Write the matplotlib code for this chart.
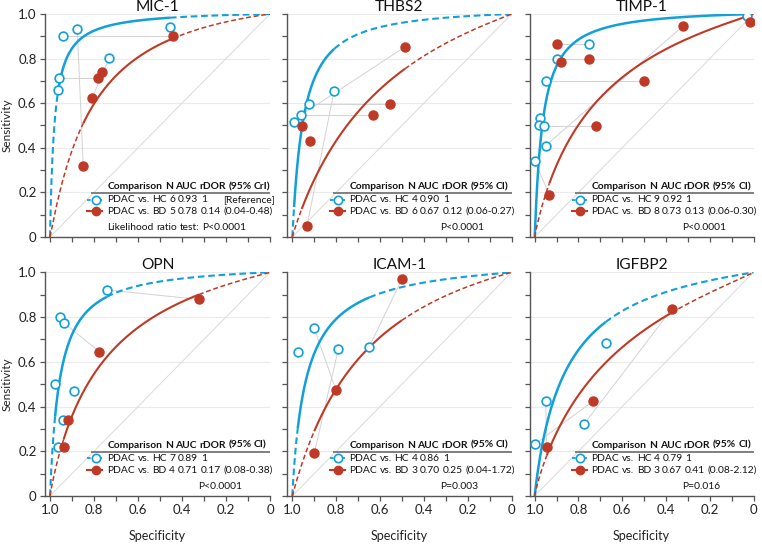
import numpy as np
import matplotlib
matplotlib.use("Agg")
import matplotlib.pyplot as plt
from matplotlib.ticker import MultipleLocator

plt.rcParams['font.family'] = ['Lato', 'DejaVu Sans']

LEG_FAMILY = ['Lato', 'DejaVu Sans']
FS_LEG = 7.4

BLUE = '#12A0DA'
RED = '#BE3A26'
GREY = '#D2D2D2'

titles = ["MIC-1", "THBS2", "TIMP-1", "OPN", "ICAM-1", "IGFBP2"]

# ---- study points (specificity, sensitivity) ----
mic1_hc_spec = [0.942, 0.876, 0.455, 0.730, 0.959, 0.965]
mic1_hc_sens = [0.901, 0.931, 0.940, 0.803, 0.711, 0.659]
mic1_bd_spec = [0.442, 0.764, 0.783, 0.808, 0.849]
mic1_bd_sens = [0.901, 0.738, 0.711, 0.625, 0.318]
mic1_pairs = [(0, 0), (1, 4), (3, 3), (4, 2)]

thbs2_hc_spec = [0.809, 0.922, 0.960, 0.992]
thbs2_hc_sens = [0.656, 0.595, 0.547, 0.516]
thbs2_bd_spec = [0.486, 0.555, 0.634, 0.957, 0.919, 0.933]
thbs2_bd_sens = [0.853, 0.595, 0.547, 0.498, 0.432, 0.051]
thbs2_pairs = [(1, 1), (2, 2), (2, 0), (0, 5)]

timp1_hc_spec = [0.030, 0.750, 0.899, 0.950, 0.976, 0.980, 0.959, 0.950, 1.000]
timp1_hc_sens = [0.991, 0.867, 0.800, 0.700, 0.532, 0.504, 0.499, 0.410, 0.342]
timp1_bd_spec = [0.016, 0.322, 0.899, 0.881, 0.750, 0.499, 0.720, 0.933]
timp1_bd_sens = [0.966, 0.946, 0.867, 0.786, 0.800, 0.700, 0.499, 0.188]
timp1_pairs = [(0, 0), (1, 2), (2, 4), (3, 5), (6, 6), (7, 1), (8, 7)]

opn_hc_spec = [0.742, 0.955, 0.938, 0.977, 0.891, 0.942, 0.965]
opn_hc_sens = [0.921, 0.802, 0.775, 0.501, 0.471, 0.340, 0.220]
opn_bd_spec = [0.323, 0.776, 0.920, 0.938]
opn_bd_sens = [0.879, 0.645, 0.340, 0.220]
opn_pairs = [(0, 0), (2, 1), (5, 2), (6, 3)]

icam1_hc_spec = [0.975, 0.900, 0.790, 0.649]
icam1_hc_sens = [0.645, 0.750, 0.657, 0.667]
icam1_bd_spec = [0.501, 0.801, 0.900]
icam1_bd_sens = [0.969, 0.474, 0.191]
icam1_pairs = [(3, 0), (1, 1), (2, 2)]

igfbp2_hc_spec = [0.676, 0.950, 0.773, 1.000]
igfbp2_hc_sens = [0.685, 0.425, 0.323, 0.231]
igfbp2_bd_spec = [0.374, 0.732, 0.945]
igfbp2_bd_sens = [0.835, 0.425, 0.220]
igfbp2_pairs = [(1, 2), (3, 1), (2, 0)]

# ---- SROC curves: logit(sens) = a + b * logit(1 - spec) ----
hc_curve_a = [3.90, 3.20, 3.50, 3.15, 2.65, 1.95]
hc_curve_b = [1.00, 1.05, 1.05, 1.00, 0.95, 0.95]
bd_curve_a = [1.85, 1.07, 1.30, 1.50, 1.30, 1.05]
bd_curve_b = [1.05, 0.97, 0.93, 0.95, 1.00, 0.90]

# ---- legend table ----
hc_n = ["6", "4", "9", "7", "4", "4"]
bd_n = ["5", "6", "8", "4", "3", "3"]
hc_auc = ["0.93", "0.90", "0.92", "0.89", "0.86", "0.79"]
bd_auc = ["0.78", "0.67", "0.73", "0.71", "0.70", "0.67"]
bd_rdor = ["0.14 (0.04-0.48)", "0.12 (0.06-0.27)", "0.13 (0.06-0.30)",
           "0.17 (0.08-0.38)", "0.25 (0.04-1.72)", "0.41 (0.08-2.12)"]
ci_word = ["CrI", "CI", "CI", "CI", "CI", "CI"]
p_text = ["Likelihood ratio test: P<0.0001", "P<0.0001", "P<0.0001",
          "P<0.0001", "P=0.003", "P=0.016"]

panels = [
    (mic1_hc_spec, mic1_hc_sens, mic1_bd_spec, mic1_bd_sens, mic1_pairs),
    (thbs2_hc_spec, thbs2_hc_sens, thbs2_bd_spec, thbs2_bd_sens, thbs2_pairs),
    (timp1_hc_spec, timp1_hc_sens, timp1_bd_spec, timp1_bd_sens, timp1_pairs),
    (opn_hc_spec, opn_hc_sens, opn_bd_spec, opn_bd_sens, opn_pairs),
    (icam1_hc_spec, icam1_hc_sens, icam1_bd_spec, icam1_bd_sens, icam1_pairs),
    (igfbp2_hc_spec, igfbp2_hc_sens, igfbp2_bd_spec, igfbp2_bd_sens, igfbp2_pairs),
]

W, H = 762, 544
DPI = 100
fig = plt.figure(figsize=(W / DPI, H / DPI), dpi=DPI)
renderer = fig.canvas.get_renderer()

col_x1 = [50.0, 292.3, 534.7]     # pixel of spec=1
col_span = [220.0, 219.4, 218.8]  # pixels per unit
row_y0 = [237.0, 496.0]           # pixel of sens=0
row_span = [223.0, 223.7]
XL = 1.023


def sroc(a, b, fpr):
    lg = a + b * np.log(fpr / (1 - fpr))
    return 1 / (1 + np.exp(-lg))


def draw_curve(ax, a, b, specs, color, lw_solid, lw_dash):
    lo_f = 1 - max(specs)
    hi_f = 1 - min(specs)
    eps = 1e-5
    f_lo = np.linspace(eps, max(lo_f, eps), 200)
    f_mid = np.linspace(max(lo_f, eps), min(hi_f, 1 - eps), 400)
    f_hi = np.linspace(min(hi_f, 1 - eps), 1 - eps, 200)
    if lo_f > 0.002:
        xs = np.concatenate([[1.0], 1 - f_lo])
        ys = np.concatenate([[0.0], sroc(a, b, f_lo)])
        ax.plot(xs, ys, color=color, lw=lw_dash, ls=(0, (3.2, 1.8)), zorder=3)
    else:
        f_mid = np.concatenate([[eps], f_mid])
    xs = 1 - f_mid
    ys = sroc(a, b, f_mid)
    if lo_f <= 0.002:
        xs = np.concatenate([[1.0], xs])
        ys = np.concatenate([[0.0], ys])
    ax.plot(xs, ys, color=color, lw=lw_solid, solid_capstyle='butt', zorder=3)
    if hi_f < 0.998:
        xs = np.concatenate([1 - f_hi, [0.0]])
        ys = np.concatenate([sroc(a, b, f_hi), [1.0]])
        ax.plot(xs, ys, color=color, lw=lw_dash, ls=(0, (3.2, 1.8)), zorder=3)


def words(ax, x, y, s, bold=False):
    """Draw a line of text word by word; returns offsets (points) of each word."""
    kw = dict(fontsize=FS_LEG, va='center', ha='left', zorder=6,
              color='#111111', family=LEG_FAMILY, annotation_clip=False,
              fontweight='bold' if bold else 'normal',
              xycoords='data', textcoords='offset points')
    probe = ax.annotate("n n", (x, y), xytext=(0, 0), **kw)
    w2 = probe.get_window_extent(renderer).width
    probe.set_text("nn")
    w1 = probe.get_window_extent(renderer).width
    probe.remove()
    space = (w2 - w1) * 72.0 / DPI
    off = 0.0
    offs = []
    for wd in s.split(' '):
        t = ax.annotate(wd, (x, y), xytext=(off, 0), **kw)
        offs.append(off)
        off += t.get_window_extent(renderer).width * 72.0 / DPI + space
    return offs


for i, (hs, hy, bs, by, pairs) in enumerate(panels):
    r, c = divmod(i, 3)
    left = col_x1[c] - (XL - 1) * col_span[c]
    width = XL * col_span[c]
    bottom = H - row_y0[r]
    ax = fig.add_axes([left / W, bottom / H, width / W, row_span[r] / H])
    ax.patch.set_visible(False)
    ax.set_xlim(XL, 0)
    ax.set_ylim(0, 1)
    for s in ['top', 'right']:
        ax.spines[s].set_visible(False)
    for s in ['left', 'bottom']:
        ax.spines[s].set_color('#555555')
        ax.spines[s].set_linewidth(1.0)
    ax.xaxis.set_minor_locator(MultipleLocator(0.1))
    ax.yaxis.set_minor_locator(MultipleLocator(0.1))
    ax.tick_params(which='both', direction='out', length=3.5, width=0.9,
                   color='#555555', labelsize=9.5, pad=2.5, labelcolor='#222222')
    ax.set_xticks([1.0, 0.8, 0.6, 0.4, 0.2, 0.0])
    ax.set_xticklabels(["1.0", "0.8", "0.6", "0.4", "0.2", "0"])
    ax.set_yticks([0.0, 0.2, 0.4, 0.6, 0.8, 1.0])
    ax.set_yticklabels(["0", "0.2", "0.4", "0.6", "0.8", "1.0"])
    if c != 0:
        ax.tick_params(axis='y', labelleft=False)
    else:
        ax.set_ylabel("Sensitivity", fontsize=8.5, labelpad=4, color='#222222')
    if r == 0:
        ax.tick_params(axis='x', labelbottom=False)
    else:
        ax.set_xlabel("Specificity", fontsize=9, labelpad=10, color='#222222')
    ax.yaxis.grid(True, which='major', color='#EBEBEB', lw=0.8, zorder=0)
    ax.set_axisbelow(True)
    ax.set_title(titles[i], fontsize=11.2, pad=1.5, color='#111111')

    # chance line
    ax.plot([1, 0], [0, 1], color='#DADADA', lw=0.7, zorder=1)

    # pair lines
    for hi_, bi_ in pairs:
        ax.plot([hs[hi_], bs[bi_]], [hy[hi_], by[bi_]], color=GREY, lw=0.7, zorder=1)

    draw_curve(ax, hc_curve_a[i], hc_curve_b[i], hs, BLUE, 1.8, 1.5)
    draw_curve(ax, bd_curve_a[i], bd_curve_b[i], bs, RED, 1.5, 1.1)

    ax.plot(hs, hy, 'o', ms=6.3, mfc='white', mec=BLUE, mew=1.2, ls='none', zorder=5)
    ax.plot(bs, by, 'o', ms=6.5, mfc=RED, mec=RED, mew=1.0, ls='none', zorder=5)

    # legend table
    xn, xP = 0.740, 0.328
    yh, yu, y1, y2, yp = 0.226, 0.198, 0.168, 0.116, 0.041
    words(ax, xn, yh, "Comparison N AUC rDOR (95%% %s)" % ci_word[i], bold=True)
    ax.plot([0.815, 0.0], [yu, yu], color='#808080', lw=1.4, clip_on=False,
            solid_capstyle='butt', zorder=6)
    # handles
    ax.plot([0.83, 0.762], [y1, y1], color=BLUE, lw=1.3, ls=(0, (2, 1.2)),
            clip_on=False, zorder=6)
    ax.plot([0.792], [y1], 'o', ms=6, mfc='white', mec=BLUE, mew=1.2,
            clip_on=False, zorder=7)
    ax.plot([0.83, 0.762], [y2, y2], color=RED, lw=1.5, clip_on=False, zorder=6)
    ax.plot([0.792], [y2], 'o', ms=6, mfc=RED, mec=RED, clip_on=False, zorder=7)
    words(ax, xn, y1, "PDAC vs. HC %s %s 1" % (hc_n[i], hc_auc[i]))
    offs2 = words(ax, xn, y2, "PDAC vs. BD %s %s %s" % (bd_n[i], bd_auc[i], bd_rdor[i]))
    if i == 0:
        ax.annotate("[Reference]", (xn, y1), xytext=(offs2[-1], 0),
                    textcoords='offset points', fontsize=FS_LEG, va='center',
                    ha='left', color='#111111', family=LEG_FAMILY,
                    annotation_clip=False, zorder=6)
    words(ax, xn if i == 0 else xP, yp, p_text[i])

fig.savefig("out.png", dpi=DPI)
